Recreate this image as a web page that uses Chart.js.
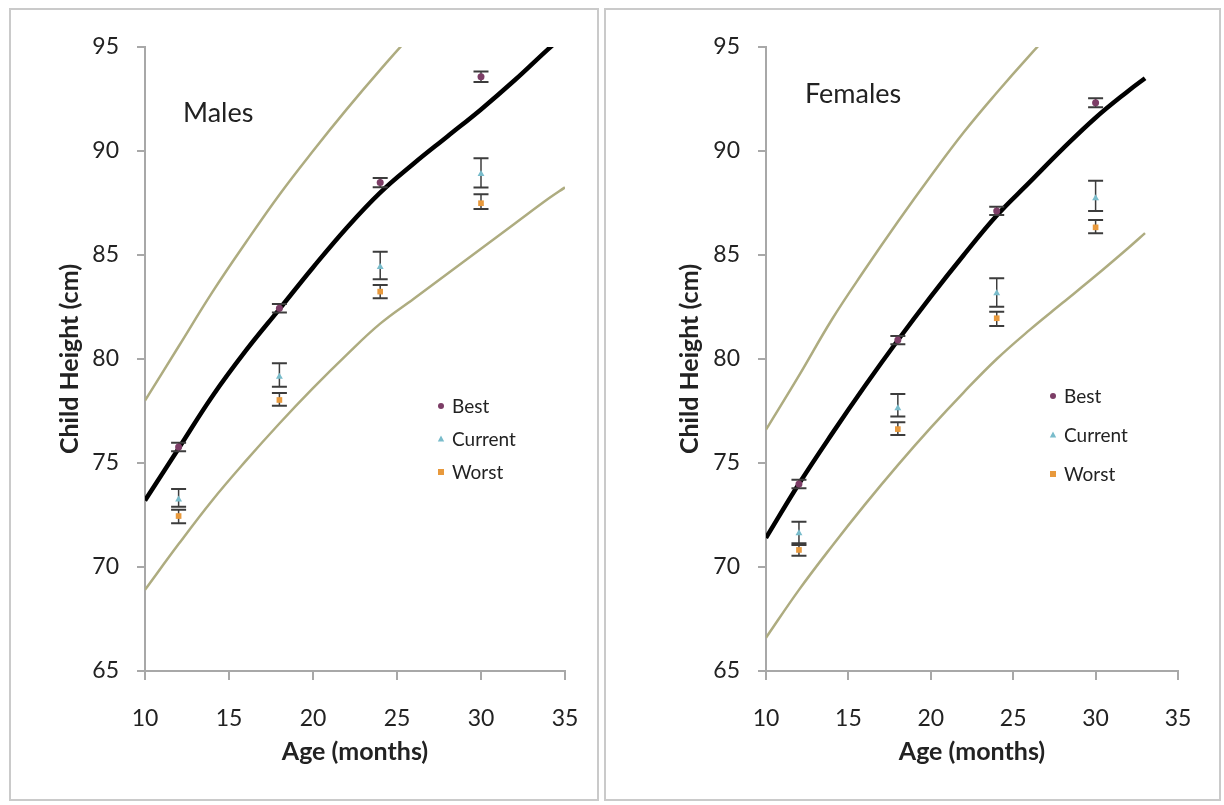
<!DOCTYPE html>
<html>
<head>
<meta charset="utf-8">
<script src="https://cdn.jsdelivr.net/npm/chart.js@4.4.1/dist/chart.umd.min.js"></script>
<style>
  body { margin: 0; width: 1224px; height: 805px; background: #fff; position: relative; overflow: hidden; }
  .box { position: absolute; border: 2px solid #cacaca; box-sizing: border-box; }
  canvas { position: absolute; }
</style>
</head>
<body>
<div class="box" style="left:9px;top:8px;width:590px;height:793px"></div>
<div class="box" style="left:604px;top:8px;width:617px;height:793px"></div>
<canvas id="males" width="584" height="788" style="left:12px;top:10px;width:584px;height:788px"></canvas>
<canvas id="females" width="612" height="788" style="left:606px;top:10px;width:612px;height:788px"></canvas>
<script>
// survey ages (months)
const ages = [12, 18, 24, 30];

// males - reference curves
const mCurveAge = [10, 12, 14, 16, 18, 20, 22, 24, 26, 28, 30, 32, 34, 35];
const mMedian = [73.2, 75.7, 78.2, 80.4, 82.4, 84.4, 86.3, 88.0, 89.4, 90.7, 92.0, 93.4, 94.9, 95.6];
const mUpper = [78.0, 80.6, 83.2, 85.6, 87.9, 90.0, 92.0, 93.9, 95.7, 97.3, 98.9, 100.4, 101.9, 102.6];
const mLower = [68.9, 71.1, 73.2, 75.1, 76.9, 78.6, 80.2, 81.7, 82.9, 84.1, 85.3, 86.5, 87.7, 88.25];

// males - scenarios
const mBest = [75.77, 82.44, 88.48, 93.57];
const mBestLow = [75.57, 82.24, 88.26, 93.32];
const mBestHigh = [75.97, 82.64, 88.7, 93.82];
const mCurrent = [73.25, 79.15, 84.42, 88.89];
const mCurrentLow = [72.9, 78.67, 83.83, 88.25];
const mCurrentHigh = [73.75, 79.79, 85.16, 89.65];
const mWorst = [72.45, 78.03, 83.24, 87.49];
const mWorstLow = [72.1, 77.75, 82.92, 87.21];
const mWorstHigh = [72.75, 78.37, 83.56, 87.92];

// females - reference curves
const fCurveAge = [10, 12, 14, 16, 18, 20, 22, 24, 26, 28, 30, 32, 33];
const fMedian = [71.4, 74.0, 76.4, 78.7, 80.9, 83.0, 85.0, 86.9, 88.5, 90.1, 91.6, 92.9, 93.5];
const fUpper = [76.6, 79.2, 81.9, 84.3, 86.6, 88.8, 90.9, 92.8, 94.6, 96.3, 97.9, 99.4, 100.1];
const fLower = [66.6, 68.9, 71.0, 73.0, 74.9, 76.7, 78.4, 80.0, 81.4, 82.7, 84.0, 85.35, 86.05];

// females - scenarios
const fBest = [73.99, 80.91, 87.12, 92.32];
const fBestLow = [73.79, 80.71, 86.92, 92.1];
const fBestHigh = [74.19, 81.11, 87.32, 92.54];
const fCurrent = [71.62, 77.63, 83.16, 87.73];
const fCurrentLow = [71.14, 77.23, 82.51, 87.12];
const fCurrentHigh = [72.18, 78.32, 83.88, 88.57];
const fWorst = [70.82, 76.63, 81.96, 86.33];
const fWorstLow = [70.54, 76.35, 81.59, 86.04];
const fWorstHigh = [71.06, 76.96, 82.27, 86.68];

const seriesNames = ['Best', 'Current', 'Worst'];
const colors = { best: '#7c3d66', current: '#79bccb', worst: '#e8993c', median: '#000', band: '#aeac80' };

Chart.defaults.font.family = 'Lato, "Open Sans", sans-serif';
Chart.defaults.color = '#222';

const toPoints = (xs, ys) => xs.map((x, i) => ({ x, y: ys[i] }));

// error bars are drawn just before their own markers
const errorBars = {
  id: 'errorBars',
  beforeDatasetDraw(chart, args) {
    const ds = chart.data.datasets[args.index];
    if (!ds.errLow) return;
    const { x, y } = chart.scales;
    const ctx = chart.ctx;
    ctx.save();
    ctx.strokeStyle = '#3c3c3c';
    ds.data.forEach((p, i) => {
      const px = x.getPixelForValue(p.x);
      const lo = y.getPixelForValue(ds.errLow[i]);
      const hi = y.getPixelForValue(ds.errHigh[i]);
      ctx.lineWidth = 1.5;
      ctx.beginPath();
      ctx.moveTo(px, lo);
      ctx.lineTo(px, hi);
      ctx.stroke();
      ctx.lineWidth = 2;
      ctx.beginPath();
      ctx.moveTo(px - 7.5, lo); ctx.lineTo(px + 7.5, lo);
      ctx.moveTo(px - 7.5, hi); ctx.lineTo(px + 7.5, hi);
      ctx.stroke();
    });
    ctx.restore();
  }
};

// panel label + little legend inside the plot
const panelText = {
  id: 'panelText',
  afterDraw(chart, args, opts) {
    const ctx = chart.ctx;
    ctx.save();
    ctx.fillStyle = '#222';
    ctx.textBaseline = 'middle';
    ctx.textAlign = 'left';
    ctx.font = '27px Lato, sans-serif';
    ctx.fillText(opts.label, opts.labelX, opts.labelY);

    ctx.font = '19px Lato, sans-serif';
    seriesNames.forEach((name, i) => {
      const ds = chart.data.datasets[i];
      const cx = opts.legendX;
      const cy = opts.legendY + i * opts.legendGap;
      ctx.fillStyle = ds.backgroundColor;
      ctx.beginPath();
      if (ds.pointStyle === 'circle') {
        ctx.arc(cx, cy, 3, 0, Math.PI * 2);
      } else if (ds.pointStyle === 'triangle') {
        ctx.moveTo(cx, cy - 3.5); ctx.lineTo(cx + 3.2, cy + 2.5); ctx.lineTo(cx - 3.2, cy + 2.5);
      } else {
        ctx.rect(cx - 3, cy - 3, 6, 6);
      }
      ctx.fill();
      ctx.fillStyle = '#222';
      ctx.fillText(name, cx + 11, cy + 1);
    });
    ctx.restore();
  }
};

function scenarioSet(label, values, low, high, style, color, radius) {
  return {
    label, data: toPoints(ages, values), errLow: low, errHigh: high,
    showLine: false, pointStyle: style, pointRadius: radius, pointHoverRadius: radius,
    backgroundColor: color, borderColor: color, borderWidth: 0
  };
}

function curveSet(label, xs, ys, color, width) {
  return {
    label, data: toPoints(xs, ys), showLine: true, pointRadius: 0,
    borderColor: color, borderWidth: width, tension: 0.4
  };
}

function makeChart(id, d, yAxisWidth, yTitlePad, rightPad, textOpts) {
  const axisColor = '#a8a8a8';
  return new Chart(document.getElementById(id), {
    type: 'scatter',
    data: {
      datasets: [
        scenarioSet('Best', d.best, d.bestLow, d.bestHigh, 'circle', colors.best, 3.5),
        scenarioSet('Current', d.current, d.currentLow, d.currentHigh, 'triangle', colors.current, 4),
        scenarioSet('Worst', d.worst, d.worstLow, d.worstHigh, 'rect', colors.worst, 4),
        curveSet('Median', d.curveAge, d.median, colors.median, 4.5),
        curveSet('Upper', d.curveAge, d.upper, colors.band, 2.5),
        curveSet('Lower', d.curveAge, d.lower, colors.band, 2.5)
      ]
    },
    options: {
      responsive: false,
      animation: false,
      layout: { padding: { top: 37, right: rightPad, bottom: 0, left: 0 } },
      scales: {
        x: {
          type: 'linear', min: 10, max: 35,
          ticks: { stepSize: 5, padding: 25, maxRotation: 0, font: { size: 23 }, color: '#222' },
          grid: { drawOnChartArea: false, tickLength: 9, color: axisColor, lineWidth: 2 },
          border: { color: axisColor, width: 2 },
          title: { display: true, text: 'Age (months)', font: { size: 25, weight: 'bold' }, color: '#222', padding: { top: 0, bottom: 31 } },
          afterFit: (s) => { s.height = 127; s.paddingLeft = 0; s.paddingRight = 0; }
        },
        y: {
          min: 65, max: 95,
          ticks: { stepSize: 5, padding: 18, font: { size: 23 }, color: '#222' },
          grid: { drawOnChartArea: false, tickLength: 8, color: axisColor, lineWidth: 2 },
          border: { color: axisColor, width: 2 },
          title: { display: true, text: 'Child Height (cm)', font: { size: 25, weight: 'bold' }, color: '#222', padding: { top: yTitlePad, bottom: 0 } },
          afterFit: (s) => { s.width = yAxisWidth; s.paddingTop = 0; s.paddingBottom = 0; }
        }
      },
      plugins: {
        legend: { display: false },
        tooltip: { enabled: false },
        panelText: textOpts
      }
    },
    plugins: [errorBars, panelText]
  });
}

makeChart('males', {
  best: mBest, bestLow: mBestLow, bestHigh: mBestHigh,
  current: mCurrent, currentLow: mCurrentLow, currentHigh: mCurrentHigh,
  worst: mWorst, worstLow: mWorstLow, worstHigh: mWorstHigh,
  curveAge: mCurveAge, median: mMedian, upper: mUpper, lower: mLower
}, 133, 43, 31, { label: 'Males', labelX: 171, labelY: 103, legendX: 429, legendY: 396, legendGap: 33 });

makeChart('females', {
  best: fBest, bestLow: fBestLow, bestHigh: fBestHigh,
  current: fCurrent, currentLow: fCurrentLow, currentHigh: fCurrentHigh,
  worst: fWorst, worstLow: fWorstLow, worstHigh: fWorstHigh,
  curveAge: fCurveAge, median: fMedian, upper: fUpper, lower: fLower
}, 160, 69, 40, { label: 'Females', labelX: 199, labelY: 84, legendX: 447, legendY: 386, legendGap: 39 });
</script>
</body>
</html>
